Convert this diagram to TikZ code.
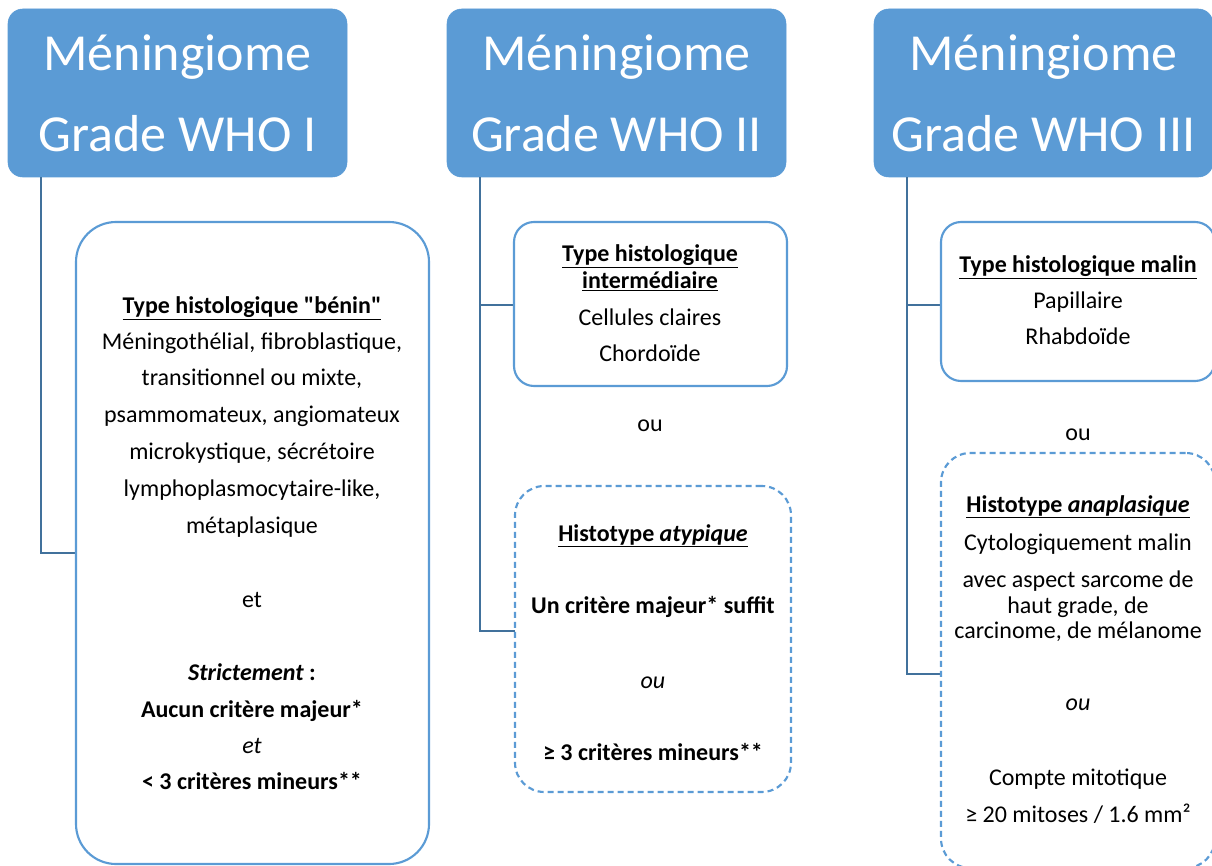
\documentclass[tikz,border=0pt]{standalone}
\usepackage{fontspec}
\setmainfont{Carlito}
\definecolor{hdrblue}{HTML}{5B9BD5}
\definecolor{linkblue}{HTML}{41719C}

\begin{document}
\begin{tikzpicture}[x=0.75pt, y=-0.75pt,
    hdr/.style={rectangle, rounded corners=11pt, fill=hdrblue, draw=hdrblue, text=white, align=center,
        minimum width=254.25pt, minimum height=126pt, inner sep=0pt, font=\fontsize{39}{60.75}\selectfont},
    box/.style={rectangle, draw=hdrblue, fill=white, line width=1.6pt, inner sep=0pt},
    dbox/.style={box, dash pattern=on 4.5pt off 3pt},
    link/.style={draw=linkblue, line width=1.5pt},
    txt/.style={anchor=base, inner sep=0pt, font=\fontsize{18}{22}\selectfont}]
        \useasboundingbox (0,0) rectangle (1212,866);

        % headers
        \node[hdr] (h1) at (177.5,93) {Méningiome\\Grade WHO I};
        \node[hdr] (h2) at (616.5,93) {Méningiome\\Grade WHO II};
        \node[hdr] (h3) at (1043.5,93) {Méningiome\\Grade WHO III};

        % lines
        \coordinate (r1) at ([xshift=24.75pt]h1.south west);
        \coordinate (r2) at ([xshift=24.75pt]h2.south west);
        \coordinate (r3) at ([xshift=24.75pt]h3.south west);
        \draw[link] (r1) |- (252,553);
        \draw[link] (r2) |- (650,305);
        \draw[link] (r2) |- (650,631);
        \draw[link] (r3) |- (1078,305);
        \draw[link] (r3) |- (1078,674);

        % boxes
        \node[box, rounded corners=30pt, minimum width=264.75pt, minimum height=481.5pt] (b1) at (252.5,543) {};
        \node[box, rounded corners=15pt, minimum width=204.75pt, minimum height=123pt] (b2a) at (650.5,304) {};
        \node[dbox, rounded corners=22pt, minimum width=207pt, minimum height=229.5pt] (b2b) at (653,639) {};
        \node[box, rounded corners=15pt, minimum width=205.5pt, minimum height=119.25pt] (b3a) at (1078,301.5) {};
        \node[dbox, rounded corners=22pt, minimum width=205.5pt, minimum height=311.25pt] (b3b) at (1078,660.5) {};

        % labels
        \foreach \yy/\lbl [count=\i] in {313/{\textbf{\underline{Type histologique \textquotedbl bénin\textquotedbl}}},
            349/{Méningothélial, fibroblastique,}, 385/{transitionnel ou mixte,},
            422/{psammomateux, angiomateux}, 459/{microkystique, sécrétoire},
            496/{lymphoplasmocytaire-like,}, 533/{métaplasique}, 607/{et},
            680/{\textbf{\textit{Strictement} :}}, 717/{\textbf{Aucun critère majeur*}},
            753/{\textit{et}}, 789/{\textbf{< 3 critères mineurs**}}}
            \node[txt] (t1\i) at (252,\yy) {\lbl};

        \foreach \yy/\lbl [count=\i] in {261/{\textbf{\underline{Type histologique}}},
            288/{\textbf{\underline{intermédiaire}}}, 325/{Cellules claires}, 361/{Chordoïde}}
            \node[txt] (t2\i) at (650,\yy) {\lbl};
        \node[txt] (o2) at (650,431) {ou};
        \foreach \yy/\lbl [count=\i] in {541/{\textbf{\underline{Histotype \textit{atypique}}}},
            613/{\textbf{Un critère majeur* suffit}}, 688/{\textit{ou}},
            760/{\textbf{≥ 3 critères mineurs**}}}
            \node[txt] (u2\i) at (653,\yy) {\lbl};

        \foreach \yy/\lbl [count=\i] in {272/{\textbf{\underline{Type histologique malin}}},
            308/{Papillaire}, 344/{Rhabdoïde}}
            \node[txt] (t3\i) at (1078,\yy) {\lbl};
        \node[txt] (o3) at (1078,440) {ou};
        \foreach \yy/\lbl [count=\i] in {512/{\textbf{\underline{Histotype \textit{anaplasique}}}},
            550/{Cytologiquement malin}, 587/{avec aspect sarcome de}, 613/{haut grade, de},
            638/{carcinome, de mélanome}, 710/{\textit{ou}}, 785/{Compte mitotique},
            822/{≥ 20 mitoses / 1.6 mm²}}
            \node[txt] (u3\i) at (1078,\yy) {\lbl};

    \end{tikzpicture}
\end{document}
